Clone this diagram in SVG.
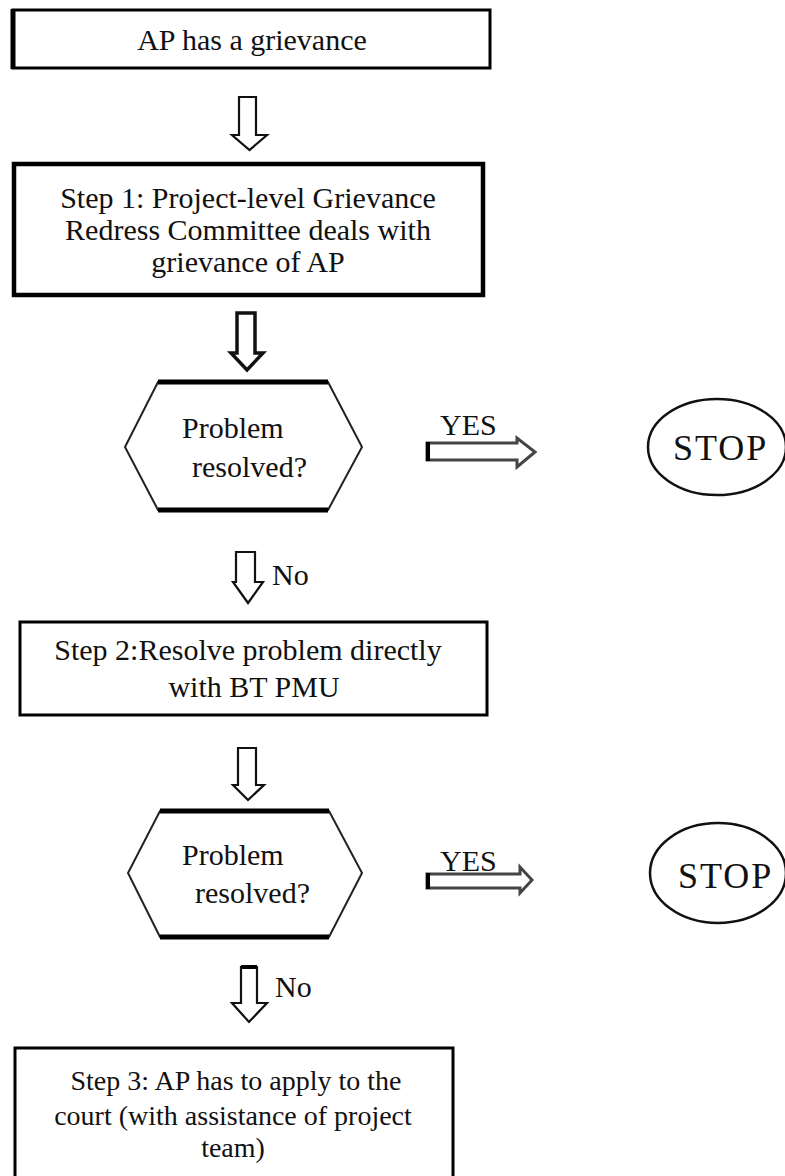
<svg xmlns="http://www.w3.org/2000/svg" width="785" height="1176" viewBox="0 0 785 1176">
<style>
text{font-family:"Liberation Serif","Times New Roman",serif;font-size:30px;fill:#111}
.c{text-anchor:middle}
.box{fill:#fff;stroke:#000;stroke-width:3}
.arr{fill:#fff;stroke:#111;stroke-width:2.2;stroke-linejoin:miter}
.harr{fill:#fff;stroke:#444;stroke-width:3}
.hex{fill:#fff;stroke:#222;stroke-width:2}
.hexbar{stroke:#000;stroke-width:5}
.stop{fill:none;stroke:#111;stroke-width:2.5}
</style>
<rect width="785" height="1176" fill="#fff"/>

<g id="connectors">
  <polygon class="arr" points="239,97 256,97 256,135 267,135 249.5,150 232,135 239,135"/>
  <polygon class="arr" style="stroke-width:3.5" points="237,313 255,313 255,353 263,353 247,370 231,353 237,353"/>
  <polygon class="arr" points="236,552 255,552 255,582 263,582 248,603 233,582 236,582"/>
  <polygon class="arr" points="238,748 256,748 256,785 264,785 248,800 233,785 238,785"/>
  <polygon class="arr" points="241,967 257,967 257,1003 267,1003 249,1022 232,1003 241,1003"/>
  <line x1="241" y1="967" x2="257" y2="967" stroke="#000" stroke-width="4"/>
  <polygon class="harr" points="427,443 517,443 517,438 535,452 517,467 517,460 427,460"/>
  <line x1="428" y1="442" x2="428" y2="461" stroke="#000" stroke-width="4"/>
  <polygon class="harr" points="427,874 520,874 520,867 532,880 520,893 520,888 427,888"/>
  <line x1="428" y1="873" x2="428" y2="889" stroke="#000" stroke-width="4"/>
  <text x="440" y="435">YES</text>
  <text x="440" y="871">YES</text>
  <text x="272" y="585">No</text>
  <text x="275" y="997">No</text>
</g>

<g id="start">
  <rect class="box" x="13" y="10" width="477" height="58"/>
  <line x1="13" y1="9" x2="13" y2="69" stroke="#000" stroke-width="5"/>
  <text class="c" x="252" y="50">AP has a grievance</text>
</g>

<g id="step1">
  <rect class="box" style="stroke-width:4.5" x="14" y="164" width="469" height="131"/>
  <text class="c" x="248" y="208">Step 1: Project-level Grievance</text>
  <text class="c" x="248" y="240">Redress Committee deals with</text>
  <text class="c" x="248" y="272">grievance of AP</text>
</g>

<g id="decision1">
  <polygon class="hex" points="158,382 328,382 362,447 328,510 158,510 125,447"/>
  <line class="hexbar" x1="158" y1="382" x2="328" y2="382"/>
  <line class="hexbar" x1="158" y1="510" x2="328" y2="510"/>
  <text x="182" y="438">Problem</text>
  <text x="192" y="477">resolved?</text>
</g>

<g id="stop1">
  <ellipse class="stop" cx="717" cy="447" rx="69" ry="48"/>
  <text x="673" y="460" style="font-size:36px;letter-spacing:2px">STOP</text>
</g>

<g id="step2">
  <rect class="box" x="20" y="622" width="467" height="93"/>
  <text class="c" x="248" y="660">Step 2:Resolve problem directly</text>
  <text class="c" x="254" y="697">with BT PMU</text>
</g>

<g id="decision2">
  <polygon class="hex" points="160,811 329,811 362,873 329,937 160,937 128,873"/>
  <line class="hexbar" x1="160" y1="811" x2="329" y2="811"/>
  <line class="hexbar" x1="160" y1="937" x2="329" y2="937"/>
  <text x="182" y="865">Problem</text>
  <text x="195" y="903">resolved?</text>
</g>

<g id="stop2">
  <ellipse class="stop" cx="718" cy="873" rx="68" ry="50"/>
  <text x="678" y="888" style="font-size:36px;letter-spacing:2px">STOP</text>
</g>

<g id="step3">
  <rect class="box" x="15" y="1048" width="438" height="150"/>
  <text class="c" x="236" y="1090" style="font-size:28px">Step 3: AP has to apply to the</text>
  <text class="c" x="233" y="1125" style="font-size:28px">court (with assistance of project</text>
  <text class="c" x="233" y="1157" style="font-size:28px">team)</text>
</g>
</svg>
